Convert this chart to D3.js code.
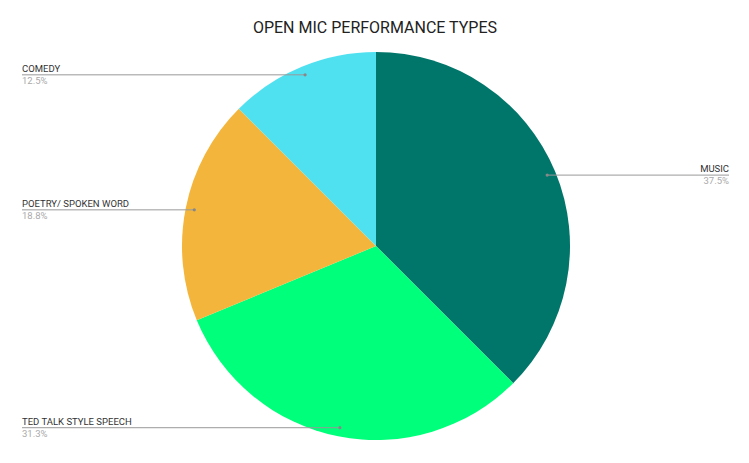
<!DOCTYPE html>
<html>
<head>
<meta charset="utf-8">
<script src="https://cdn.jsdelivr.net/npm/d3@7"></script>
<style>
  body { margin: 0; background: #fff; }
  text { font-family: Roboto, "Noto Sans", sans-serif; }
</style>
</head>
<body>
<svg id="chart" width="749" height="463"></svg>
<script>
const categories = ["MUSIC", "TED TALK STYLE SPEECH", "POETRY/ SPOKEN WORD", "COMEDY"];
const counts = [6, 5, 3, 2];
const colors = ["#00756a", "#00ff7a", "#f3b53b", "#50e1f1"];
// label side and row for each slice
const labelSide = ["right", "left", "left", "left"];
const labelY = [175, 427, 210, 75];

const svg = d3.select("#chart");
const cx = 376, cy = 246, radius = 194;

svg.append("text")
  .attr("x", 375)
  .attr("y", 33)
  .attr("text-anchor", "middle")
  .style("font-size", "16px")
  .style("fill", "#222")
  .text("OPEN MIC PERFORMANCE TYPES");

const total = d3.sum(counts);
const pie = d3.pie().sort(null)(counts);
const arc = d3.arc().innerRadius(0).outerRadius(radius);
const dotArc = d3.arc().innerRadius(radius * 0.955).outerRadius(radius * 0.955);

const g = svg.append("g").attr("transform", "translate(" + cx + "," + cy + ")");

g.selectAll("path")
  .data(pie)
  .enter()
  .append("path")
  .attr("d", arc)
  .style("fill", (d, i) => colors[i]);

// leader lines + labels
pie.forEach(function (d, i) {
  var p = dotArc.centroid(d);
  var px = cx + p[0], py = cy + p[1];
  var y = labelY[i];
  var right = labelSide[i] === "right";
  var x0 = right ? 729 : 22;

  svg.append("line")
    .attr("x1", px).attr("y1", py)
    .attr("x2", x0).attr("y2", py)
    .style("stroke", "#999")
    .style("stroke-width", 1);
  svg.append("circle")
    .attr("cx", px).attr("cy", py).attr("r", 1.6)
    .style("fill", "#888");

  svg.append("text")
    .attr("x", x0).attr("y", py - 3)
    .attr("text-anchor", right ? "end" : "start")
    .style("font-size", "9.5px")
    .style("fill", "#333")
    .text(categories[i]);
  svg.append("text")
    .attr("x", x0).attr("y", py + 9)
    .attr("text-anchor", right ? "end" : "start")
    .style("font-size", "9.5px")
    .style("fill", "#aaa")
    .text((counts[i] / total * 100).toFixed(1) + "%");
});
</script>
</body>
</html>
